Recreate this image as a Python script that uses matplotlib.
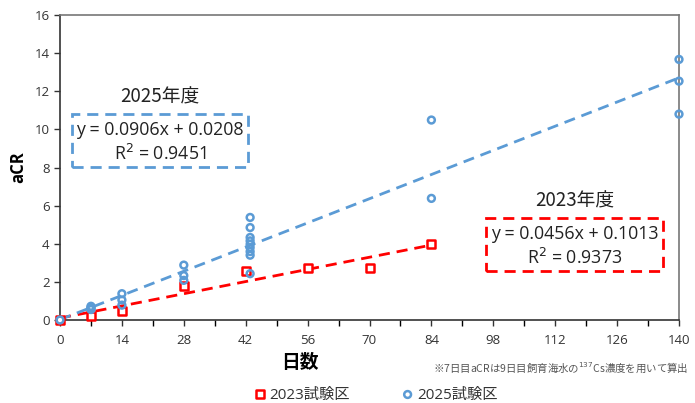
import matplotlib.pyplot as plt
import numpy as np
from matplotlib.patches import FancyBboxPatch

plt.rcParams["font.family"] = ["Open Sans", "Noto Sans CJK JP", "DejaVu Sans"]

# 2023 test plot
days_2023 = [0, 7, 14, 28, 42, 56, 70, 84]
acr_2023 = [0.0, 0.23, 0.49, 1.78, 2.59, 2.71, 2.71, 4.0]

# 2025 test plot
days_2025 = [0, 7, 7, 7, 7, 14, 14, 14, 28, 28, 28,
             43, 43, 43, 43, 43, 43, 43, 43, 43,
             84, 84, 140, 140, 140]
acr_2025 = [0.0, 0.55, 0.6, 0.65, 0.72, 1.38, 1.05, 0.78, 2.88, 2.33, 2.08,
            5.38, 4.85, 4.33, 4.15, 3.97, 3.80, 3.59, 3.40, 2.43,
            10.49, 6.38, 13.67, 12.53, 10.80]

# trend lines (slope, intercept, r2, x range)
fit_2023 = (0.0456, 0.1013, 0.9373, 84)
fit_2025 = (0.0906, 0.0208, 0.9451, 140)

blue = "#5B9BD5"
red = "#FF0000"

fig = plt.figure(figsize=(6.95, 4.03), dpi=100)
ax = fig.add_axes([60 / 695, 1 - 320 / 403, 619 / 695, 305 / 403])

xs = np.array([0, fit_2023[3]])
ax.plot(xs, fit_2023[0] * xs + fit_2023[1], color=red, lw=2, dashes=(4, 2.5), zorder=2)
xs = np.array([0, fit_2025[3]])
ax.plot(xs, fit_2025[0] * xs + fit_2025[1], color=blue, lw=2, dashes=(4, 2.5), zorder=2)

ax.scatter(days_2023, acr_2023, marker="s", s=30, facecolors="white", edgecolors=red,
           linewidths=1.8, zorder=3, clip_on=False, label="2023試験区")
ax.scatter(days_2025, acr_2025, marker="o", s=24, facecolors="none", edgecolors=blue,
           linewidths=1.8, zorder=4, clip_on=False, label="2025試験区")

ax.set_xlim(0, 140)
ax.set_ylim(0, 16)
ax.set_xticks(np.arange(0, 141, 14))
ax.set_xticks(np.arange(0, 141, 7), minor=True)
ax.set_yticks(np.arange(0, 17, 2))
ax.tick_params(axis="both", direction="out", length=4, width=1, labelsize=9.5, colors="#333333")
ax.tick_params(axis="x", which="minor", direction="out", length=4, width=1)
ax.tick_params(axis="x", pad=6)
for s in ["left", "bottom"]:
    ax.spines[s].set_color("#333333")
    ax.spines[s].set_linewidth(1.2)
for s in ["top", "right"]:
    ax.spines[s].set_color("#777777")
    ax.spines[s].set_linewidth(1.2)

ax.set_ylabel("aCR", fontsize=12, fontweight="bold", labelpad=5)
fig.text(300 / 695, 1 - 362 / 403, "日数", fontsize=13.5, fontweight="bold",
         ha="center", va="center", family=["Noto Sans CJK JP"])
fig.text(433 / 695, 1 - 368 / 403, "※7日目aCRは9日目飼育海水の$^{137}$Cs濃度を用いて算出",
         fontsize=7.5, color="#555555", ha="left", va="center",
         family=["Noto Sans CJK JP", "DejaVu Sans"])


def eq_box(x0, y0, x1, y1, color, title, fit):
    # pixel coords -> figure fraction
    box = FancyBboxPatch((x0 / 695, 1 - y1 / 403), (x1 - x0) / 695, (y1 - y0) / 403,
                         boxstyle="square,pad=0", transform=fig.transFigure,
                         fill=False, edgecolor=color, lw=2, linestyle=(0, (4, 2.5)))
    fig.add_artist(box)
    cx = (x0 + x1) / 2
    fig.text(cx / 695, 1 - (y0 - 17) / 403, title, fontsize=13.5, ha="center", va="center",
             color="#222222", family=["Noto Sans CJK JP"])
    fig.text(cx / 695, 1 - (y0 + 16) / 403, f"y = {fit[0]:.4f}x + {fit[1]:.4f}",
             fontsize=12.8, ha="center", va="center", color="#222222")
    fig.text(cx / 695, 1 - (y0 + 40) / 403, f"R$^2$ = {fit[2]:.4f}",
             fontsize=12.8, ha="center", va="center", color="#222222")


eq_box(72, 114, 248, 167, blue, "2025年度", fit_2025)
eq_box(486, 218, 663, 271, red, "2023年度", fit_2023)

leg = fig.legend(loc="center", bbox_to_anchor=(374 / 695, 1 - 395 / 403), ncol=2,
                 frameon=False, handletextpad=0.0, columnspacing=3.2, handlelength=1.2,
                 markerscale=1.0, prop={"family": ["Open Sans", "Noto Sans CJK JP"], "size": 11})
for t in leg.get_texts():
    t.set_color("#333333")

fig.savefig("out.png", dpi=100)
